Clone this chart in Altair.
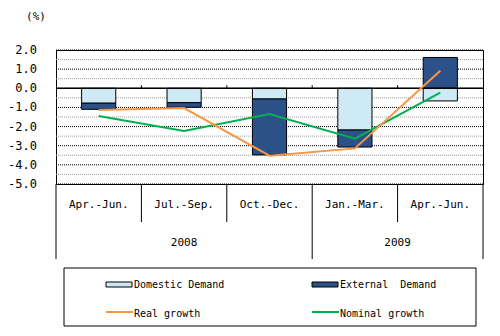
import altair as alt
import pandas as pd

# ---- data ----
quarters = ["Apr.-Jun.", "Jul.-Sep.", "Oct.-Dec.", "Jan.-Mar.", "Apr.-Jun."]
years = ["2008", "2008", "2008", "2009", "2009"]
domestic = [-0.78, -0.75, -0.56, -2.18, -0.66]
external = [-0.32, -0.24, -2.92, -0.89, 1.61]
real_growth = [-1.13, -1.03, -3.52, -3.14, 0.92]
nominal_growth = [-1.45, -2.23, -1.34, -2.63, -0.23]
y_ticks = [-5, -4, -3, -2, -1, 0, 1, 2]
half_lines = [-4.5, -3.5, -2.5, -1.5, -0.5, 0.5, 1.5]
bar_series = ["Domestic Demand", "External\u00a0 Demand"]
line_series = ["Real growth", "Nominal growth"]
bar_colors = ["#cdeaf5", "#2c5088"]
line_colors = ["#f79646", "#00b050"]
unit_label = "(%)"

FONT = "DejaVu Sans Mono"
W, H = 427, 134

n = len(quarters)
df = pd.DataFrame({
    "idx": list(range(n)),
    "quarter": quarters,
    "year": years,
    "dom": domestic,
    "ext": external,
    "real": real_growth,
    "nominal": nominal_growth,
})
bounds = pd.DataFrame({"b": list(range(n + 1))})
bounds["major"] = [b == 0 or b == n or years[b - 1] != years[b] for b in range(n + 1)]

xsc = alt.Scale(domain=[0, n], nice=False, zero=False)
ysc = alt.Scale(domain=[min(y_ticks), max(y_ticks)], nice=False)


def Y(field):
    return alt.Y(field, scale=ysc, axis=None)


def X(field):
    return alt.X(field, scale=xsc, axis=None)


base = alt.Chart(df).transform_calculate(
    xa="datum.idx + 0.3", xb="datum.idx + 0.7", xc="datum.idx + 0.5"
)

half_grid = alt.Chart(pd.DataFrame({"v": half_lines})).mark_rule(
    color="#9a9a9a", strokeDash=[1, 1], strokeWidth=1
).encode(y=Y("v:Q"))

int_grid = alt.Chart(pd.DataFrame({"v": y_ticks})).mark_rule(
    color="black", strokeDash=[1, 1], strokeWidth=1
).encode(y=Y("v:Q"))

y_tick_labels = alt.Chart(pd.DataFrame({"v": y_ticks})).transform_calculate(
    lab="(datum.v < 0 ? '-' : '') + format(abs(datum.v), '.1f')"
).mark_text(
    font=FONT, fontSize=12, color="black", align="right", baseline="middle"
).encode(y=Y("v:Q"), x=alt.value(-19), text="lab:N")

dom_bar = base.transform_calculate(y0="0", y1="datum.dom").mark_rect(
    fill=bar_colors[0], stroke="black", strokeWidth=1
).encode(x=X("xa:Q"), x2="xb:Q", y=Y("y0:Q"), y2="y1:Q")

ext_bar = base.transform_calculate(
    y0="datum.ext * datum.dom > 0 ? datum.dom : 0"
).transform_calculate(y1="datum.y0 + datum.ext").mark_rect(
    fill=bar_colors[1], stroke="black", strokeWidth=1
).encode(x=X("xa:Q"), x2="xb:Q", y=Y("y0:Q"), y2="y1:Q")

zero_line = alt.Chart(pd.DataFrame({"v": [0]})).mark_rule(
    color="black", strokeWidth=1.5
).encode(y=Y("v:Q"))

zero_ticks = alt.Chart(bounds).transform_filter(
    "datum.b > 0 && datum.b < %d" % n
).transform_calculate(t0="0", t1="0.16").mark_rule(
    color="black", strokeWidth=1
).encode(x=X("b:Q"), y=Y("t0:Q"), y2="t1:Q")

nominal_line = base.mark_line(color=line_colors[1], strokeWidth=2).encode(
    x=X("xc:Q"), y=Y("nominal:Q")
)
real_line = base.mark_line(color=line_colors[0], strokeWidth=2).encode(
    x=X("xc:Q"), y=Y("real:Q")
)

short_sep = alt.Chart(bounds).transform_filter("!datum.major").mark_rule(
    color="black", strokeWidth=1
).encode(x=X("b:Q"), y=alt.value(H), y2=alt.value(172))

long_sep = alt.Chart(bounds).transform_filter("datum.major").mark_rule(
    color="black", strokeWidth=1
).encode(x=X("b:Q"), y=alt.value(H), y2=alt.value(209))

q_labels = base.mark_text(
    font=FONT, fontSize=11, color="black", baseline="middle", align="center"
).encode(x=X("xc:Q"), y=alt.value(155), text="quarter:N")

yr_labels = base.transform_aggregate(
    xm="mean(xc)", groupby=["year"]
).mark_text(
    font=FONT, fontSize=11, color="black", baseline="middle", align="center"
).encode(x=X("xm:Q"), y=alt.value(193), text="year:N")

dummy = alt.Chart(pd.DataFrame({"k": [0]}))
unit_text = dummy.mark_text(
    text=unit_label, font=FONT, fontSize=11, color="black",
    align="center", baseline="middle"
).encode(x=alt.value(-20), y=alt.value(-33))

# ---- hand-drawn legend box ----
legend_box = dummy.mark_rect(fill="white", stroke="black", strokeWidth=1).encode(
    x=alt.value(8), x2=alt.value(420), y=alt.value(218), y2=alt.value(276)
)
legend_layers = [legend_box]
col_x = [50, 256]
for i, (name, color) in enumerate(zip(bar_series, bar_colors)):
    legend_layers.append(
        dummy.mark_rect(fill=color, stroke="black", strokeWidth=1).encode(
            x=alt.value(col_x[i]), x2=alt.value(col_x[i] + 26),
            y=alt.value(232), y2=alt.value(237),
        )
    )
    legend_layers.append(
        dummy.mark_text(text=name, font=FONT, fontSize=10, color="black",
                        align="left", baseline="middle").encode(
            x=alt.value(col_x[i] + 28), y=alt.value(235)
        )
    )
for i, (name, color) in enumerate(zip(line_series, line_colors)):
    legend_layers.append(
        dummy.mark_rule(color=color, strokeWidth=2).encode(
            x=alt.value(col_x[i]), x2=alt.value(col_x[i] + 27),
            y=alt.value(262),
        )
    )
    legend_layers.append(
        dummy.mark_text(text=name, font=FONT, fontSize=10, color="black",
                        align="left", baseline="middle").encode(
            x=alt.value(col_x[i] + 28), y=alt.value(264)
        )
    )

chart = alt.layer(
    half_grid, int_grid, y_tick_labels, dom_bar, ext_bar, zero_line, zero_ticks,
    nominal_line, real_line, short_sep, long_sep, q_labels, yr_labels, unit_text,
    *legend_layers,
).properties(
    width=W, height=H,
    padding={"left": 56, "top": 50, "right": 17, "bottom": 152},
    autosize=alt.AutoSizeParams(type="none"),
    background="white",
).configure_view(stroke="black", strokeWidth=1)

chart.save("out.html", embed_options={"renderer": "svg", "actions": False})
